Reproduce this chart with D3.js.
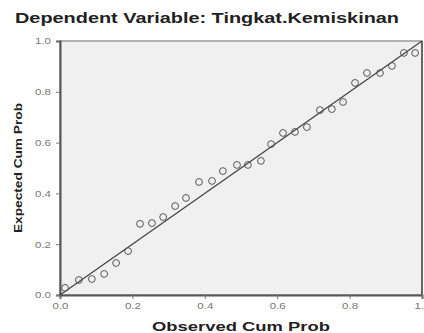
<!DOCTYPE html>
<html>
<head>
<meta charset="utf-8">
<title>Normal P-P Plot</title>
<script src="https://d3js.org/d3.v7.min.js"></script>
<style>
  html, body { margin: 0; padding: 0; background: #fff; }
  svg { display: block; font-family: "Liberation Sans", Arial, sans-serif; }
</style>
</head>
<body>
<script>
// values
const observed = [0.014, 0.052, 0.088, 0.122, 0.155, 0.188, 0.221, 0.254, 0.285, 0.318,
                  0.348, 0.384, 0.420, 0.450, 0.489, 0.519, 0.555, 0.583, 0.616, 0.649,
                  0.682, 0.718, 0.751, 0.782, 0.815, 0.848, 0.884, 0.917, 0.950, 0.981];
const expected = [0.028, 0.059, 0.063, 0.083, 0.126, 0.173, 0.280, 0.283, 0.307, 0.350,
                  0.382, 0.445, 0.449, 0.488, 0.512, 0.512, 0.528, 0.594, 0.638, 0.642,
                  0.661, 0.728, 0.732, 0.760, 0.835, 0.874, 0.874, 0.902, 0.953, 0.953];
const yTicks = [0, 0.2, 0.4, 0.6, 0.8, 1.0];
const xTicks = [0, 0.2, 0.4, 0.6, 0.8, 1.0];

const width = 424, height = 333;
const plotLeft = 60, plotRight = 422, plotTop = 41, plotBottom = 295;

const svg = d3.select("body").append("svg")
    .attr("width", width)
    .attr("height", height);

const x = d3.scaleLinear().domain([0, 1]).range([plotLeft, plotRight]);
const y = d3.scaleLinear().domain([0, 1]).range([plotBottom, plotTop]);

// title
svg.append("text")
    .attr("x", 15).attr("y", 23)
    .attr("font-size", 14).attr("font-weight", "bold")
    .attr("fill", "#222")
    .attr("textLength", 384).attr("lengthAdjust", "spacingAndGlyphs")
    .text("Dependent Variable: Tingkat.Kemiskinan");

// plot background
svg.append("rect")
    .attr("x", plotLeft).attr("y", plotTop)
    .attr("width", plotRight - plotLeft).attr("height", plotBottom - plotTop)
    .attr("fill", "#f0f0f0")
    .attr("stroke", "#999").attr("stroke-width", 1.5);

// axes
const yAxis = svg.append("g")
    .attr("transform", `translate(${plotLeft},0)`)
    .call(d3.axisLeft(y).tickValues(yTicks).tickFormat(d3.format(".1f")).tickSize(4).tickPadding(5));
const xAxis = svg.append("g")
    .attr("transform", `translate(0,${plotBottom})`)
    .call(d3.axisBottom(x).tickValues(xTicks).tickFormat(d3.format(".1f")).tickSize(4).tickPadding(4));

[yAxis, xAxis].forEach(g => {
  g.select(".domain").attr("stroke", "#555").attr("stroke-width", 2);
  g.selectAll(".tick line").attr("stroke", "#777");
  g.selectAll(".tick text")
      .attr("fill", "#777").attr("font-size", 9)
      .attr("font-family", "Liberation Sans, Arial, sans-serif")
      .attr("textLength", 16).attr("lengthAdjust", "spacingAndGlyphs");
});

// right border
svg.append("line")
    .attr("x1", plotRight).attr("x2", plotRight).attr("y1", plotTop).attr("y2", plotBottom)
    .attr("stroke", "#666").attr("stroke-width", 2);

// reference diagonal
svg.append("line")
    .attr("x1", x(0)).attr("y1", y(0))
    .attr("x2", x(1)).attr("y2", y(1))
    .attr("stroke", "#444").attr("stroke-width", 1.3);

// points
svg.append("g").selectAll("circle")
    .data(observed.map((o, i) => [o, expected[i]]))
    .join("circle")
    .attr("cx", d => x(d[0]))
    .attr("cy", d => y(d[1]))
    .attr("r", 3.4)
    .attr("fill", "none")
    .attr("stroke", "#555")
    .attr("stroke-width", 1);

// axis titles
svg.append("text")
    .attr("x", (plotLeft + plotRight) / 2).attr("y", 331)
    .attr("text-anchor", "middle")
    .attr("font-size", 13).attr("font-weight", "bold").attr("fill", "#222")
    .attr("textLength", 178).attr("lengthAdjust", "spacingAndGlyphs")
    .text("Observed Cum Prob");

svg.append("text")
    .attr("transform", `translate(22,${(plotTop + plotBottom) / 2}) rotate(-90)`)
    .attr("text-anchor", "middle")
    .attr("font-size", 11).attr("font-weight", "bold").attr("fill", "#222")
    .attr("textLength", 130).attr("lengthAdjust", "spacingAndGlyphs")
    .text("Expected Cum Prob");
</script>
</body>
</html>
